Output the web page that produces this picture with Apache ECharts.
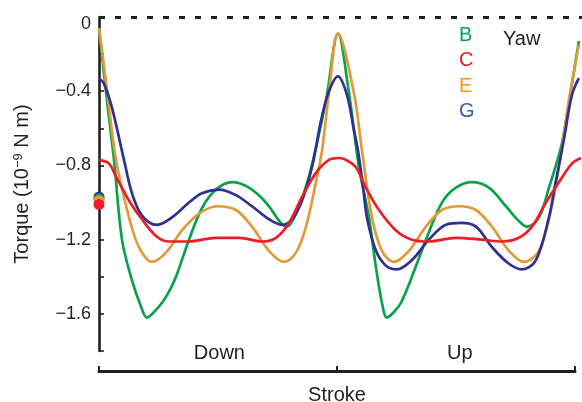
<!DOCTYPE html>
<html>
<head>
<meta charset="utf-8">
<script src="https://cdn.jsdelivr.net/npm/echarts@6/dist/echarts.min.js"></script>
<style>
  html, body { margin: 0; padding: 0; background: #fff; }
  #chart { width: 582px; height: 402px; }
</style>
</head>
<body>
<div id="chart"></div>
<script>
// stroke position (% of stroke) , torque (10^-9 N m)
const torqueB = [[0,-0.06],[1.68,-0.45],[3.16,-0.77],[4.84,-1.20],[6.95,-1.42],[8.84,-1.56],[10.1,-1.62],[11.58,-1.59],[13.26,-1.54],[14.74,-1.48],[16.21,-1.40],[18.95,-1.20],[21.68,-1.03],[24.63,-0.93],[28.0,-0.89],[31.58,-0.92],[35.16,-1.00],[38.32,-1.11],[39.58,-1.13],[41.47,-1.06],[44.21,-0.86],[47.79,-0.45],[50.32,-0.09],[52.63,-0.41],[54.74,-0.81],[56.84,-1.08],[58.32,-1.35],[59.58,-1.54],[60.63,-1.62],[62.11,-1.59],[63.58,-1.54],[65.89,-1.40],[68.84,-1.20],[72.21,-1.00],[75.16,-0.92],[78.53,-0.89],[82.1,-0.92],[85.68,-1.02],[88.42,-1.10],[90.1,-1.13],[92.63,-1.08],[94.74,-0.92],[97.47,-0.68],[99.37,-0.39],[101.05,-0.13]];
const torqueC = [[0,-0.77],[2.1,-0.79],[3.58,-0.86],[6.32,-0.99],[9.05,-1.09],[12.0,-1.18],[14.74,-1.21],[18.95,-1.21],[24.63,-1.19],[29.47,-1.19],[34.32,-1.21],[37.26,-1.19],[40.0,-1.11],[42.74,-0.97],[45.68,-0.84],[48.42,-0.77],[50.53,-0.76],[52.0,-0.77],[54.1,-0.81],[56.21,-0.92],[58.95,-1.04],[62.53,-1.15],[65.89,-1.20],[69.47,-1.21],[75.16,-1.19],[80.63,-1.20],[84.84,-1.21],[88.42,-1.19],[91.16,-1.13],[94.1,-1.00],[96.84,-0.89],[99.58,-0.79],[101.47,-0.76]];
const torqueE = [[0,-0.06],[1.68,-0.39],[3.58,-0.77],[6.32,-1.08],[8.42,-1.24],[11.16,-1.32],[14.1,-1.27],[17.47,-1.15],[21.05,-1.06],[24.84,-1.02],[28.84,-1.04],[32.21,-1.13],[35.79,-1.26],[38.95,-1.32],[41.47,-1.27],[43.58,-1.13],[45.68,-0.89],[46.95,-0.72],[48.42,-0.41],[50.32,-0.09],[53.68,-0.41],[55.37,-0.72],[57.47,-1.08],[59.58,-1.26],[62.11,-1.32],[65.26,-1.26],[68.84,-1.13],[72.21,-1.04],[75.79,-1.02],[79.37,-1.04],[82.74,-1.13],[86.32,-1.26],[89.47,-1.32],[92.63,-1.26],[95.16,-1.04],[96.84,-0.81],[98.95,-0.45],[101.05,-0.15]];
const torqueG = [[0,-0.33],[1.05,-0.36],[2.74,-0.49],[5.26,-0.77],[6.95,-0.95],[9.05,-1.07],[12.21,-1.12],[15.37,-1.08],[18.95,-1.00],[21.68,-0.95],[25.26,-0.93],[28.84,-0.96],[32.21,-1.02],[35.79,-1.09],[38.53,-1.12],[40.63,-1.09],[42.74,-0.99],[44.84,-0.81],[46.74,-0.56],[48.42,-0.40],[50.32,-0.32],[52.21,-0.42],[53.68,-0.61],[54.53,-0.72],[55.58,-0.91],[56.42,-1.08],[58.32,-1.26],[60.42,-1.34],[62.74,-1.36],[65.89,-1.31],[69.47,-1.20],[73.05,-1.12],[76.21,-1.11],[79.37,-1.13],[82.74,-1.24],[86.32,-1.33],[89.05,-1.36],[92.0,-1.31],[94.74,-1.08],[96.0,-0.91],[97.89,-0.66],[99.58,-0.42],[101.05,-0.33]];

const wings = ['B', 'C', 'E', 'G'];
const meanTorque = [-0.98, -1.01, -0.99, -0.97];   // dots at stroke start
const strokeTicks = [0, 50, 100];
const phaseLabels = ['Down', 'Up'];
const phasePos = [25.3, 75.8];

const lineColor = { B: '#0aa14b', C: '#ee1c25', E: '#e09a3a', G: '#2e3192' };
const textColor = { B: '#00a651', C: '#ed1c24', E: '#f7941d', G: '#3d58a6' };
const ink = '#231f20';
const font = 'Liberation Sans, Arial, Helvetica, sans-serif';

const chart = echarts.init(document.getElementById('chart'));

const curves = { B: torqueB, C: torqueC, E: torqueE, G: torqueG };
const lineOrder = ['B', 'E', 'G', 'C'];   // red on top
const dotOrder = ['G', 'B', 'E', 'C'];

const series = [];
lineOrder.forEach(function (w, i) {
  const s = {
    name: w,
    type: 'line',
    xAxisIndex: 0,
    yAxisIndex: 0,
    data: curves[w],
    smooth: 0.35,
    showSymbol: false,
    lineStyle: { color: lineColor[w], width: 2.7 },
    itemStyle: { color: lineColor[w] },
    z: 2
  };
  if (i === 0) {
    s.markLine = {
      silent: true,
      symbol: 'none',
      label: { show: false },
      lineStyle: { color: ink, type: [6, 10], width: 3 },
      data: [{ yAxis: 0 }]
    };
  }
  series.push(s);
});
dotOrder.forEach(function (w) {
  series.push({
    name: w,
    type: 'scatter',
    xAxisIndex: 0,
    yAxisIndex: 0,
    clip: false,
    symbolSize: 11,
    data: [[0, meanTorque[wings.indexOf(w)]]],
    itemStyle: { color: lineColor[w], opacity: 1 },
    z: 4
  });
});

const option = {
  animation: false,
  textStyle: { fontFamily: font },
  title: {
    text: 'Yaw',
    left: 503,
    top: 29,
    padding: 0,
    textStyle: { fontFamily: font, fontSize: 20, fontWeight: 'normal', color: ink }
  },
  legend: {
    orient: 'vertical',
    left: 454,
    top: 25,
    padding: 0,
    icon: 'none',
    itemWidth: 0,
    itemHeight: 14,
    itemGap: 5.5,
    selectedMode: false,
    textStyle: { fontFamily: font, fontSize: 20, lineHeight: 20 },
    data: wings.map(function (w) {
      return { name: w, textStyle: { color: textColor[w] } };
    })
  },
  grid: [
    { left: 99, right: 0, top: 17, bottom: 51, outerBoundsMode: 'none' },
    { left: 99, right: 7, top: 330, bottom: 31, outerBoundsMode: 'none' }
  ],
  xAxis: [
    { gridIndex: 0, type: 'value', min: 0, max: 101.7, show: false },
    {
      gridIndex: 1,
      type: 'value',
      min: 0,
      max: 100,
      position: 'bottom',
      axisLine: { show: true, lineStyle: { color: ink, width: 3 } },
      axisTick: { show: true, inside: true, length: 5, customValues: strokeTicks, lineStyle: { color: ink, width: 2 } },
      axisLabel: {
        show: true,
        inside: true,
        margin: 8,
        customValues: phasePos,
        formatter: function (v) {
          const i = phasePos.indexOf(v);
          return i >= 0 ? phaseLabels[i] : '';
        },
        color: ink,
        fontSize: 20,
        fontFamily: font
      },
      splitLine: { show: false },
      name: 'Stroke',
      nameLocation: 'middle',
      nameGap: 14,
      nameTextStyle: { color: ink, fontSize: 20, fontFamily: font }
    }
  ],
  yAxis: [
    {
      gridIndex: 0,
      type: 'value',
      min: -1.8,
      max: 0,
      interval: 0.2,
      axisLine: { show: true, lineStyle: { color: ink, width: 2.6 } },
      axisTick: { show: true, inside: true, length: 5, lineStyle: { color: ink, width: 1.6 } },
      axisLabel: {
        margin: 8,
        color: ink,
        fontSize: 18,
        fontFamily: font,
        formatter: function (v) {
          const r = Math.round(v * 10);
          if (r === 0) return '{z|0}';
          if (r % 4 !== 0) return '';
          return '\u2212' + (Math.abs(r) / 10).toFixed(1);
        },
        rich: { z: { fontSize: 18, fontFamily: font, color: ink, padding: [14, 0, 0, 0] } }
      },
      splitLine: { show: false },
      name: 'Torque (10{sup|\u22129} N m)',
      nameLocation: 'middle',
      nameRotate: 90,
      nameGap: 66,
      nameTextStyle: {
        color: ink,
        fontSize: 20,
        fontFamily: font,
        rich: { sup: { fontSize: 13, fontFamily: font, color: ink, verticalAlign: 'top', padding: [0, 0, 8, 0] } }
      }
    },
    { gridIndex: 1, type: 'value', show: false }
  ],
  series: series
};

chart.setOption(option);
</script>
</body>
</html>
